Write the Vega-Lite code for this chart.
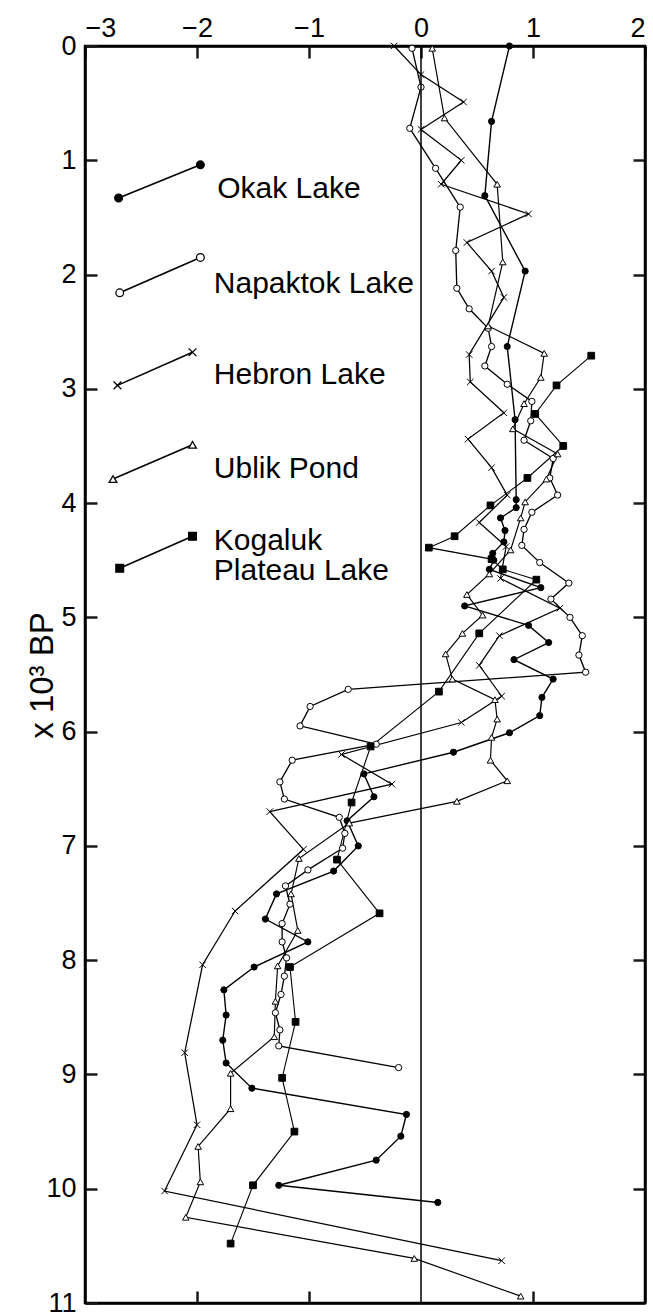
{
  "$schema": "https://vega.github.io/schema/vega-lite/v6.json",
  "width": 560,
  "height": 1257,
  "autosize": {"type": "none"},
  "padding": {"left": 85, "top": 46, "right": 8, "bottom": 9},
  "background": "white",
  "config": {
    "view": {"stroke": "black", "strokeWidth": 2.5},
    "axis": {
      "grid": false, "domainColor": "black", "domainWidth": 2.5,
      "labelFont": "Liberation Sans", "labelFontSize": 27, "labelColor": "black",
      "tickColor": "#1a1a1a", "tickWidth": 2.5,
      "titleFont": "Liberation Sans", "titleColor": "black", "titleFontWeight": "normal"
    }
  },
  "datasets": {
    "pts": [
      {"s":"Okak","d":0,"x":0.79},{"s":"Okak","d":0.66,"x":0.63},{"s":"Okak","d":1.31,"x":0.57},{"s":"Okak","d":1.97,"x":0.93},{"s":"Okak","d":2.63,"x":0.77},{"s":"Okak","d":3.27,"x":0.84},{"s":"Okak","d":3.97,"x":0.85},{"s":"Okak","d":4.04,"x":0.85},{"s":"Okak","d":4.13,"x":0.71},{"s":"Okak","d":4.24,"x":0.75},{"s":"Okak","d":4.34,"x":0.74},{"s":"Okak","d":4.44,"x":0.64},{"s":"Okak","d":4.5,"x":0.65},{"s":"Okak","d":4.58,"x":0.61},{"s":"Okak","d":4.74,"x":1.07},{"s":"Okak","d":4.9,"x":0.39},{"s":"Okak","d":5.07,"x":0.96},{"s":"Okak","d":5.22,"x":1.14},{"s":"Okak","d":5.37,"x":0.83},{"s":"Okak","d":5.54,"x":1.18},{"s":"Okak","d":5.7,"x":1.08},{"s":"Okak","d":5.86,"x":1.06},{"s":"Okak","d":6.01,"x":0.79},{"s":"Okak","d":6.18,"x":0.29},{"s":"Okak","d":6.37,"x":-0.51},{"s":"Okak","d":6.57,"x":-0.42},{"s":"Okak","d":6.78,"x":-0.66},{"s":"Okak","d":7.0,"x":-0.56},{"s":"Okak","d":7.22,"x":-0.78},{"s":"Okak","d":7.42,"x":-1.29},{"s":"Okak","d":7.64,"x":-1.39},{"s":"Okak","d":7.84,"x":-1.01},{"s":"Okak","d":8.06,"x":-1.49},{"s":"Okak","d":8.26,"x":-1.76},{"s":"Okak","d":8.48,"x":-1.74},{"s":"Okak","d":8.7,"x":-1.77},{"s":"Okak","d":8.9,"x":-1.74},{"s":"Okak","d":9.12,"x":-1.51},{"s":"Okak","d":9.35,"x":-0.13},{"s":"Okak","d":9.54,"x":-0.18},{"s":"Okak","d":9.75,"x":-0.4},{"s":"Okak","d":9.97,"x":-1.27},{"s":"Okak","d":10.12,"x":0.15},
      {"s":"Napaktok","d":0.02,"x":-0.08},{"s":"Napaktok","d":0.36,"x":0.0},{"s":"Napaktok","d":0.72,"x":-0.1},{"s":"Napaktok","d":1.07,"x":0.13},{"s":"Napaktok","d":1.41,"x":0.35},{"s":"Napaktok","d":1.79,"x":0.31},{"s":"Napaktok","d":2.12,"x":0.32},{"s":"Napaktok","d":2.3,"x":0.43},{"s":"Napaktok","d":2.47,"x":0.6},{"s":"Napaktok","d":2.63,"x":0.63},{"s":"Napaktok","d":2.8,"x":0.57},{"s":"Napaktok","d":2.96,"x":0.77},{"s":"Napaktok","d":3.11,"x":0.99},{"s":"Napaktok","d":3.28,"x":0.98},{"s":"Napaktok","d":3.45,"x":0.92},{"s":"Napaktok","d":3.61,"x":1.18},{"s":"Napaktok","d":3.78,"x":1.15},{"s":"Napaktok","d":3.93,"x":1.22},{"s":"Napaktok","d":4.08,"x":0.99},{"s":"Napaktok","d":4.23,"x":0.92},{"s":"Napaktok","d":4.37,"x":0.9},{"s":"Napaktok","d":4.52,"x":1.06},{"s":"Napaktok","d":4.7,"x":1.32},{"s":"Napaktok","d":4.84,"x":1.16},{"s":"Napaktok","d":5.0,"x":1.33},{"s":"Napaktok","d":5.16,"x":1.44},{"s":"Napaktok","d":5.33,"x":1.41},{"s":"Napaktok","d":5.48,"x":1.47},{"s":"Napaktok","d":5.63,"x":-0.65},{"s":"Napaktok","d":5.78,"x":-0.99},{"s":"Napaktok","d":5.95,"x":-1.08},{"s":"Napaktok","d":6.11,"x":-0.4},{"s":"Napaktok","d":6.25,"x":-1.15},{"s":"Napaktok","d":6.44,"x":-1.26},{"s":"Napaktok","d":6.59,"x":-1.22},{"s":"Napaktok","d":6.75,"x":-0.73},{"s":"Napaktok","d":6.89,"x":-0.68},{"s":"Napaktok","d":7.02,"x":-0.7},{"s":"Napaktok","d":7.21,"x":-1.01},{"s":"Napaktok","d":7.35,"x":-1.21},{"s":"Napaktok","d":7.51,"x":-1.17},{"s":"Napaktok","d":7.68,"x":-1.24},{"s":"Napaktok","d":7.84,"x":-1.24},{"s":"Napaktok","d":7.98,"x":-1.2},{"s":"Napaktok","d":8.14,"x":-1.22},{"s":"Napaktok","d":8.3,"x":-1.25},{"s":"Napaktok","d":8.46,"x":-1.3},{"s":"Napaktok","d":8.61,"x":-1.26},{"s":"Napaktok","d":8.75,"x":-1.27},{"s":"Napaktok","d":8.94,"x":-0.2},
      {"s":"Hebron","d":0,"x":-0.24},{"s":"Hebron","d":0.25,"x":0.0},{"s":"Hebron","d":0.49,"x":0.38},{"s":"Hebron","d":0.73,"x":0.0},{"s":"Hebron","d":1.0,"x":0.36},{"s":"Hebron","d":1.21,"x":0.18},{"s":"Hebron","d":1.47,"x":0.96},{"s":"Hebron","d":1.72,"x":0.41},{"s":"Hebron","d":1.97,"x":0.63},{"s":"Hebron","d":2.2,"x":0.74},{"s":"Hebron","d":2.7,"x":0.43},{"s":"Hebron","d":2.94,"x":0.44},{"s":"Hebron","d":3.21,"x":0.74},{"s":"Hebron","d":3.44,"x":0.42},{"s":"Hebron","d":3.69,"x":0.63},{"s":"Hebron","d":3.93,"x":0.77},{"s":"Hebron","d":4.17,"x":0.52},{"s":"Hebron","d":4.38,"x":0.76},{"s":"Hebron","d":4.66,"x":0.71},{"s":"Hebron","d":4.92,"x":1.24},{"s":"Hebron","d":5.16,"x":0.7},{"s":"Hebron","d":5.42,"x":0.52},{"s":"Hebron","d":5.69,"x":0.72},{"s":"Hebron","d":5.92,"x":0.36},{"s":"Hebron","d":6.2,"x":-0.71},{"s":"Hebron","d":6.46,"x":-0.26},{"s":"Hebron","d":6.7,"x":-1.35},{"s":"Hebron","d":7.03,"x":-1.05},{"s":"Hebron","d":7.57,"x":-1.66},{"s":"Hebron","d":8.04,"x":-1.95},{"s":"Hebron","d":8.81,"x":-2.11},{"s":"Hebron","d":9.44,"x":-2.0},{"s":"Hebron","d":10.02,"x":-2.29},{"s":"Hebron","d":10.63,"x":0.72},
      {"s":"Ublik","d":0.02,"x":0.1},{"s":"Ublik","d":0.63,"x":0.21},{"s":"Ublik","d":1.21,"x":0.68},{"s":"Ublik","d":1.89,"x":0.73},{"s":"Ublik","d":2.45,"x":0.6},{"s":"Ublik","d":2.69,"x":1.1},{"s":"Ublik","d":2.9,"x":1.07},{"s":"Ublik","d":3.13,"x":0.92},{"s":"Ublik","d":3.35,"x":0.82},{"s":"Ublik","d":3.57,"x":1.22},{"s":"Ublik","d":3.79,"x":1.12},{"s":"Ublik","d":3.99,"x":0.93},{"s":"Ublik","d":4.13,"x":0.89},{"s":"Ublik","d":4.41,"x":0.8},{"s":"Ublik","d":4.62,"x":0.61},{"s":"Ublik","d":4.8,"x":0.41},{"s":"Ublik","d":4.98,"x":0.55},{"s":"Ublik","d":5.14,"x":0.37},{"s":"Ublik","d":5.32,"x":0.22},{"s":"Ublik","d":5.54,"x":0.28},{"s":"Ublik","d":5.72,"x":0.66},{"s":"Ublik","d":5.89,"x":0.68},{"s":"Ublik","d":6.05,"x":0.63},{"s":"Ublik","d":6.25,"x":0.62},{"s":"Ublik","d":6.43,"x":0.77},{"s":"Ublik","d":6.61,"x":0.32},{"s":"Ublik","d":6.8,"x":-0.64},{"s":"Ublik","d":7.11,"x":-1.09},{"s":"Ublik","d":7.42,"x":-1.16},{"s":"Ublik","d":7.74,"x":-1.1},{"s":"Ublik","d":8.05,"x":-1.28},{"s":"Ublik","d":8.36,"x":-1.3},{"s":"Ublik","d":8.67,"x":-1.31},{"s":"Ublik","d":8.99,"x":-1.7},{"s":"Ublik","d":9.3,"x":-1.7},{"s":"Ublik","d":9.63,"x":-1.99},{"s":"Ublik","d":9.94,"x":-1.97},{"s":"Ublik","d":10.25,"x":-2.1},{"s":"Ublik","d":10.61,"x":-0.06},{"s":"Ublik","d":10.94,"x":0.89},
      {"s":"Kogaluk","d":2.71,"x":1.52},{"s":"Kogaluk","d":2.97,"x":1.21},{"s":"Kogaluk","d":3.22,"x":1.02},{"s":"Kogaluk","d":3.5,"x":1.27},{"s":"Kogaluk","d":3.78,"x":0.95},{"s":"Kogaluk","d":4.02,"x":0.62},{"s":"Kogaluk","d":4.29,"x":0.3},{"s":"Kogaluk","d":4.39,"x":0.07},{"s":"Kogaluk","d":4.49,"x":0.63},{"s":"Kogaluk","d":4.58,"x":0.73},{"s":"Kogaluk","d":4.67,"x":1.03},{"s":"Kogaluk","d":5.14,"x":0.52},{"s":"Kogaluk","d":5.65,"x":0.16},{"s":"Kogaluk","d":6.13,"x":-0.45},{"s":"Kogaluk","d":6.62,"x":-0.62},{"s":"Kogaluk","d":7.12,"x":-0.75},{"s":"Kogaluk","d":7.59,"x":-0.37},{"s":"Kogaluk","d":8.06,"x":-1.17},{"s":"Kogaluk","d":8.54,"x":-1.12},{"s":"Kogaluk","d":9.03,"x":-1.24},{"s":"Kogaluk","d":9.5,"x":-1.13},{"s":"Kogaluk","d":9.97,"x":-1.5},{"s":"Kogaluk","d":10.48,"x":-1.7}
    ],
    "leg": [
      {"s":"Okak","d":1.33,"x":-2.7},{"s":"Okak","d":1.04,"x":-1.97},
      {"s":"Napaktok","d":2.16,"x":-2.69},{"s":"Napaktok","d":1.85,"x":-1.97},
      {"s":"Hebron","d":2.97,"x":-2.71},{"s":"Hebron","d":2.68,"x":-2.04},
      {"s":"Ublik","d":3.79,"x":-2.75},{"s":"Ublik","d":3.49,"x":-2.04},
      {"s":"Kogaluk","d":4.57,"x":-2.69},{"s":"Kogaluk","d":4.29,"x":-2.04}
    ],
    "labels": [
      {"t":"Okak Lake","x":-1.82,"d":1.25},
      {"t":"Napaktok Lake","x":-1.85,"d":2.08},
      {"t":"Hebron Lake","x":-1.85,"d":2.88},
      {"t":"Ublik Pond","x":-1.85,"d":3.7},
      {"t":"Kogaluk","x":-1.85,"d":4.33},
      {"t":"Plateau Lake","x":-1.85,"d":4.59}
    ]
  },
  "resolve": {"axis": {"x": "independent", "y": "independent"}},
  "layer": [
    {
      "data": {"name": "pts"},
      "mark": {"type": "line", "color": "black"},
      "encoding": {
        "x": {"field": "x", "type": "quantitative", "scale": {"domain": [-3, 2], "nice": false, "zero": false},
              "axis": {"orient": "top", "values": [-3, -2, -1, 0, 1, 2], "title": null, "ticks": true, "tickSize": -12, "labelPadding": 16}},
        "y": {"field": "d", "type": "quantitative", "scale": {"domain": [0, 11], "reverse": true, "nice": false, "zero": false},
              "axis": {"orient": "left", "values": [0,1,2,3,4,5,6,7,8,9,10,11], "ticks": true, "tickSize": -12, "labelPadding": 21,
                       "title": "x 10³ BP", "titleFontSize": 33, "titleAngle": -90, "titleX": -43, "titleY": 629,
                       "titleAlign": "center", "titleBaseline": "middle"}},
        "detail": {"field": "s"},
        "order": {"field": "d"},
        "strokeWidth": {"field": "s", "type": "nominal", "legend": null,
                        "scale": {"domain": ["Okak","Napaktok","Hebron","Ublik","Kogaluk"], "range": [1.4, 1.1, 0.9, 1.1, 1.4]}}
      }
    },
    {
      "data": {"name": "pts"},
      "mark": {"type": "point", "filled": true, "stroke": "black", "strokeWidth": 1, "opacity": 1},
      "encoding": {
        "x": {"field": "x", "type": "quantitative", "axis": {"orient": "bottom", "values": [-2, -1, 1], "ticks": true, "tickSize": -12, "labels": false, "title": null}},
        "y": {"field": "d", "type": "quantitative", "axis": {"orient": "right", "values": [1,2,3,4,5,6,7,8,9,10], "ticks": true, "tickSize": -12, "labels": false, "title": null}},
        "shape": {"field": "s", "type": "nominal", "legend": null,
                  "scale": {"domain": ["Okak","Napaktok","Hebron","Ublik","Kogaluk"], "range": ["circle","circle","M-1,-1L1,1M-1,1L1,-1","triangle-up","square"]}},
        "fill": {"field": "s", "type": "nominal", "legend": null,
                 "scale": {"domain": ["Okak","Napaktok","Hebron","Ublik","Kogaluk"], "range": ["black","white","white","white","black"]}},
        "size": {"field": "s", "type": "nominal", "legend": null,
                 "scale": {"domain": ["Okak","Napaktok","Hebron","Ublik","Kogaluk"], "range": [38, 45, 25, 45, 36]}}
      }
    },
    {
      "data": {"values": [{"v": 0}]},
      "mark": {"type": "rule", "color": "black", "strokeWidth": 1.5},
      "encoding": {
        "x": {"field": "v", "type": "quantitative", "axis": null}
      }
    },
    {
      "data": {"name": "leg"},
      "mark": {"type": "line", "color": "black", "strokeWidth": 1.6},
      "encoding": {
        "x": {"field": "x", "type": "quantitative", "axis": null},
        "y": {"field": "d", "type": "quantitative", "axis": null},
        "detail": {"field": "s"},
        "order": {"field": "x"}
      }
    },
    {
      "data": {"name": "leg"},
      "mark": {"type": "point", "filled": true, "stroke": "black", "strokeWidth": 1.3, "opacity": 1},
      "encoding": {
        "x": {"field": "x", "type": "quantitative", "axis": null},
        "y": {"field": "d", "type": "quantitative", "axis": null},
        "shape": {"field": "s", "type": "nominal", "legend": null},
        "fill": {"field": "s", "type": "nominal", "legend": null},
        "size": {"value": 60}
      }
    },
    {
      "data": {"name": "labels"},
      "mark": {"type": "text", "align": "left", "baseline": "middle", "fontSize": 30, "font": "Liberation Sans", "color": "black"},
      "encoding": {
        "x": {"field": "x", "type": "quantitative", "axis": null},
        "y": {"field": "d", "type": "quantitative", "axis": null},
        "text": {"field": "t"}
      }
    }
  ]
}
